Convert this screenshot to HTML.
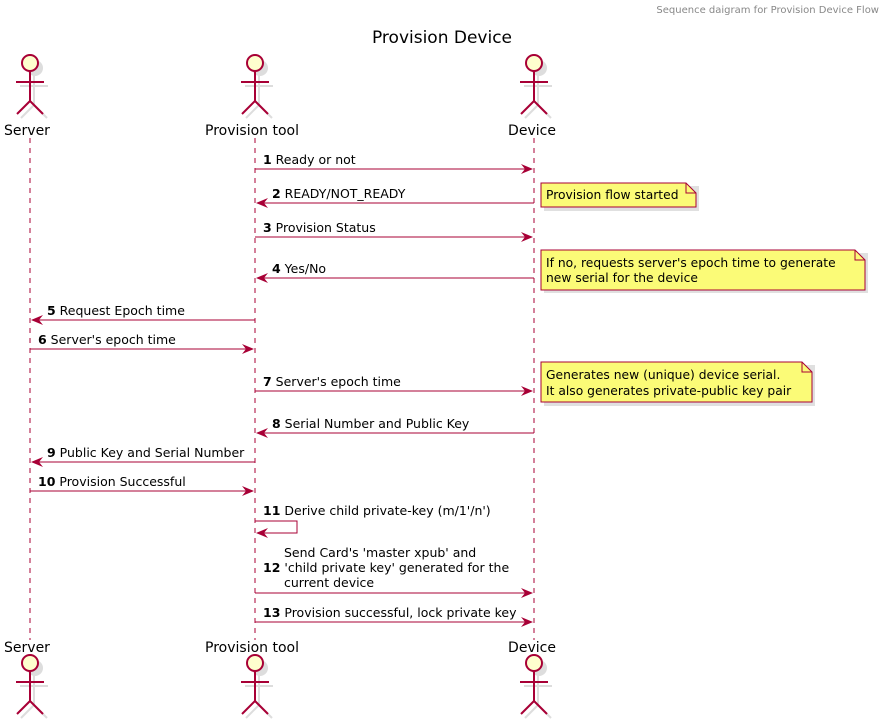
<!DOCTYPE html>
<html><head><meta charset="utf-8"><style>
html,body{margin:0;padding:0;background:#fff;}
svg{display:block;font-family:"DejaVu Sans","Liberation Sans",sans-serif;}
.t{font-size:12.5px;fill:#000;}
.n{font-size:12.3px;fill:#000;}
.b{font-weight:bold;}
</style></head><body>
<svg width="885" height="721" viewBox="0 0 885 721" xmlns="http://www.w3.org/2000/svg">
<defs>
<g id="actor">
  <circle cx="2" cy="2" r="8" fill="#ddd" stroke="none" transform="translate(3,3)"/>
  <g transform="translate(4,4)" stroke="#ddd" stroke-width="2" fill="none">
    <line x1="0" y1="8" x2="0" y2="38"/><line x1="-14" y1="19" x2="14" y2="19"/>
    <line x1="0" y1="38" x2="-13" y2="51"/><line x1="0" y1="38" x2="13" y2="51"/>
  </g>
  <circle cx="0" cy="0" r="8" fill="#FEFECE" stroke="#A80036" stroke-width="2"/>
  <g stroke="#A80036" stroke-width="2" fill="none">
    <line x1="0" y1="8" x2="0" y2="38"/><line x1="-14" y1="19" x2="14" y2="19"/>
    <line x1="0" y1="38" x2="-13" y2="51"/><line x1="0" y1="38" x2="13" y2="51"/>
  </g>
</g>
<path id="ar" d="M0 0 L-12 -5 L-8 0 L-12 5 Z" fill="#A80036"/>
<path id="al" d="M0 0 L12 -5 L8 0 L12 5 Z" fill="#A80036"/>
</defs>

<text x="879" y="13" text-anchor="end" style="font-size:10px;fill:#888">Sequence daigram for Provision Device Flow</text>
<text x="442" y="43" text-anchor="middle" style="font-size:17px">Provision Device</text>

<g stroke="#A80036" stroke-width="1" stroke-dasharray="5,5">
<line x1="30" y1="138" x2="30" y2="640"/>
<line x1="255" y1="138" x2="255" y2="640"/>
<line x1="534" y1="138" x2="534" y2="640"/>
</g>

<use href="#actor" x="30" y="63"/><use href="#actor" x="255" y="63"/><use href="#actor" x="534" y="63"/>
<use href="#actor" x="30" y="663"/><use href="#actor" x="255" y="663"/><use href="#actor" x="534" y="663"/>
<text x="27" y="135" text-anchor="middle" style="font-size:14px">Server</text>
<text x="252" y="135" text-anchor="middle" style="font-size:14px">Provision tool</text>
<text x="532" y="135" text-anchor="middle" style="font-size:14px">Device</text>
<text x="27" y="652" text-anchor="middle" style="font-size:14px">Server</text>
<text x="252" y="652" text-anchor="middle" style="font-size:14px">Provision tool</text>
<text x="532" y="652" text-anchor="middle" style="font-size:14px">Device</text>

<g fill="#FBFB77" stroke="#A80036" stroke-width="1">
<path d="M544 186 H699 V211 H544 Z" fill="#ccc" stroke="none" opacity="0.6"/>
<path d="M541 183 H686 L696 193 V207 H541 Z"/><path d="M686 183 V193 H696" fill="none"/>
<path d="M544 253 H868 V293 H544 Z" fill="#ccc" stroke="none" opacity="0.6"/>
<path d="M541 250 H855 L865 260 V290 H541 Z"/><path d="M855 250 V260 H865" fill="none"/>
<path d="M544 365 H815 V406 H544 Z" fill="#ccc" stroke="none" opacity="0.6"/>
<path d="M541 362 H802 L812 372 V402 H541 Z"/><path d="M802 362 V372 H812" fill="none"/>
</g>
<text class="n" x="546" y="199">Provision flow started</text>
<text class="n" x="546" y="267">If no, requests server's epoch time to generate</text>
<text class="n" x="546" y="282">new serial for the device</text>
<text class="n" x="546" y="379">Generates new (unique) device serial.</text>
<text class="n" x="546" y="395">It also generates private-public key pair</text>

<g stroke="#A80036" stroke-width="1">
<line x1="255" y1="169" x2="532" y2="169"/>
<line x1="257" y1="203" x2="534" y2="203"/>
<line x1="255" y1="237" x2="532" y2="237"/>
<line x1="257" y1="278" x2="534" y2="278"/>
<line x1="32" y1="320" x2="255" y2="320"/>
<line x1="30" y1="349" x2="253" y2="349"/>
<line x1="255" y1="391" x2="532" y2="391"/>
<line x1="257" y1="433" x2="534" y2="433"/>
<line x1="32" y1="462" x2="255" y2="462"/>
<line x1="30" y1="491" x2="253" y2="491"/>
<polyline points="255,521 297,521 297,533 257,533" fill="none"/>
<line x1="255" y1="593" x2="532" y2="593"/>
<line x1="255" y1="622" x2="532" y2="622"/>
</g>
<use href="#ar" x="533" y="169"/><use href="#al" x="256" y="203"/><use href="#ar" x="533" y="237"/>
<use href="#al" x="256" y="278"/><use href="#al" x="31" y="320"/><use href="#ar" x="254" y="349"/>
<use href="#ar" x="533" y="391"/><use href="#al" x="256" y="433"/><use href="#al" x="31" y="462"/>
<use href="#ar" x="254" y="491"/><use href="#al" x="256" y="533"/><use href="#ar" x="533" y="593"/>
<use href="#ar" x="533" y="622"/>

<text class="t" x="263" y="164"><tspan class="b">1</tspan> Ready or not</text>
<text class="t" x="272" y="198"><tspan class="b">2</tspan> READY/NOT_READY</text>
<text class="t" x="263" y="232"><tspan class="b">3</tspan> Provision Status</text>
<text class="t" x="272" y="273"><tspan class="b">4</tspan> Yes/No</text>
<text class="t" x="47" y="315"><tspan class="b">5</tspan> Request Epoch time</text>
<text class="t" x="38" y="344"><tspan class="b">6</tspan> Server's epoch time</text>
<text class="t" x="263" y="386"><tspan class="b">7</tspan> Server's epoch time</text>
<text class="t" x="272" y="428"><tspan class="b">8</tspan> Serial Number and Public Key</text>
<text class="t" x="47" y="457"><tspan class="b">9</tspan> Public Key and Serial Number</text>
<text class="t" x="38" y="486"><tspan class="b">10</tspan> Provision Successful</text>
<text class="t" x="263" y="515"><tspan class="b">11</tspan> Derive child private-key (m/1'/n')</text>
<text class="t" x="284" y="557">Send Card's 'master xpub' and</text>
<text class="t" x="263" y="572"><tspan class="b">12</tspan> 'child private key' generated for the</text>
<text class="t" x="284" y="587">current device</text>
<text class="t" x="263" y="617"><tspan class="b">13</tspan> Provision successful, lock private key</text>
</svg>
</body></html>
